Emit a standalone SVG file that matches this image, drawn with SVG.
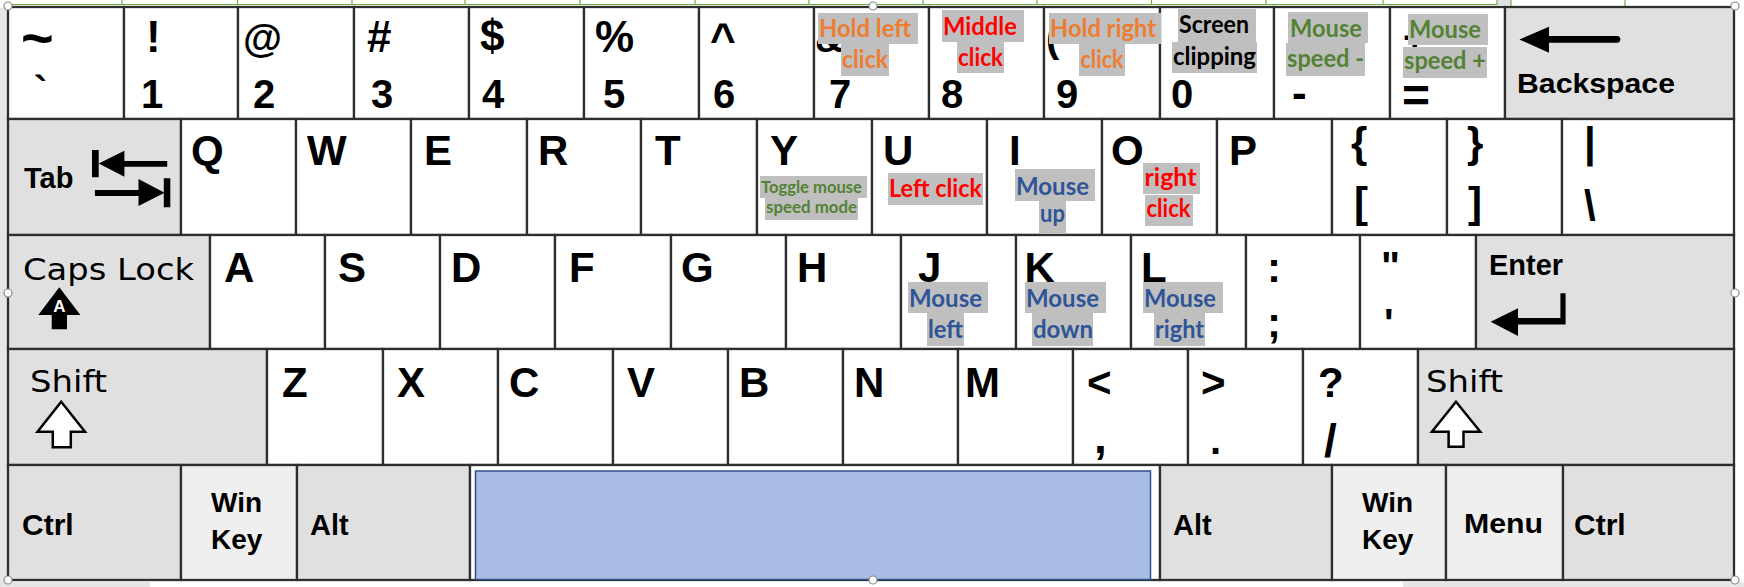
<svg xmlns="http://www.w3.org/2000/svg" width="1744" height="587" viewBox="0 0 1744 587">
<style>
.k{stroke:#2e2e2e;stroke-width:2.3}
.w{fill:#fff}.g{fill:#e0e0e0}.l{fill:#efefef}
.t{font-family:"Liberation Sans",Arial,sans-serif;font-weight:bold;font-size:40px;fill:#000}
.L{font-size:42px}
.U{font-size:44px}
.m{font-family:"Liberation Sans",Arial,sans-serif;font-weight:bold;font-size:29px;fill:#000}
.m30{font-size:30px}
.m28{font-size:28px}
.d{font-family:"DejaVu Sans",sans-serif;font-size:31px;fill:#000}
.a{font-family:Lato,"Open Sans",sans-serif;font-weight:bold;font-size:25px}
.s{font-size:17px}
.hl{fill:#bfbfbf}
.or{fill:#ed7d31}.rd{fill:#ff0000}.gr{fill:#548235}.bl{fill:#2f5597}.bk{fill:#000}
.ic{fill:#000}
.io{fill:#fff;stroke:#000;stroke-width:2.5;stroke-linejoin:miter}
.h{fill:#fff;stroke:#8c8c8c;stroke-width:1.2}
.gl{stroke:#70ad47;stroke-width:1.2;fill:none}
</style>

<rect x="0" y="0" width="1744" height="587" fill="#fff"/>
<g id="sheet">
<rect x="0" y="8" width="7" height="579" fill="#e6e6e6"/>
<rect x="0" y="582" width="150" height="5" fill="#e6e6e6"/>
<rect x="1403" y="582" width="341" height="5" fill="#e6e6e6"/>
<rect x="1497" y="0" width="14" height="5" fill="#e0e0e0"/>
<path class="gl" d="M8 4.5H1497M1511 6.5H1734M122 0V4.5M237.5 0V4.5M352 0V4.5M465 0V4.5M580 0V4.5M695 0V4.5M809 0V4.5M923 0V4.5M1037 0V4.5M1151.5 0V4.5M1266 0V4.5M1383 0V4.5M1497 0V4.5M1511 0V6.5M1625 0V6.5"/>
</g>

<!-- Row 1 -->
<g id="key-tilde"><rect class="k w" x="8" y="7" width="116" height="112"/><text class="t" x="21" y="57" style="font-size:56px">~</text><text class="t" x="34" y="105">`</text></g>
<g id="key-1"><rect class="k w" x="124" y="7" width="114" height="112"/><text class="t U" x="146" y="52">!</text><text class="t" x="141" y="108">1</text></g>
<g id="key-2"><rect class="k w" x="238" y="7" width="116" height="112"/><text class="t" x="243" y="52">@</text><text class="t" x="253" y="108">2</text></g>
<g id="key-3"><rect class="k w" x="354" y="7" width="115" height="112"/><text class="t U" x="367" y="52">#</text><text class="t" x="371" y="108">3</text></g>
<g id="key-4"><rect class="k w" x="469" y="7" width="115" height="112"/><text class="t U" x="480" y="51">$</text><text class="t" x="482" y="108">4</text></g>
<g id="key-5"><rect class="k w" x="584" y="7" width="115" height="112"/><text class="t U" x="595" y="52">%</text><text class="t" x="603" y="108">5</text></g>
<g id="key-6"><rect class="k w" x="699" y="7" width="115" height="112"/><text class="t U" x="710" y="54">^</text><text class="t" x="713" y="108">6</text></g>
<g id="key-7"><rect class="k w" x="814" y="7" width="115" height="112"/><text class="t" x="815" y="52">&amp;</text><text class="t" x="829" y="108">7</text></g>
<g id="key-8"><rect class="k w" x="929" y="7" width="115" height="112"/><text class="t" x="941" y="108">8</text></g>
<g id="key-9"><rect class="k w" x="1044" y="7" width="116" height="112"/><text class="t" x="1046" y="52">(</text><text class="t" x="1056" y="108">9</text></g>
<g id="key-0"><rect class="k w" x="1160" y="7" width="114" height="112"/><text class="t" x="1171" y="108">0</text></g>
<g id="key-minus"><rect class="k w" x="1274" y="7" width="116" height="112"/><text class="t" x="1292" y="108" style="font-size:44px">-</text></g>
<g id="key-equal"><rect class="k w" x="1390" y="7" width="115" height="112"/><text class="t" x="1403" y="51">+</text><text class="t" x="1402" y="112" style="font-size:48px">=</text></g>
<g id="key-backspace"><rect class="k g" x="1505" y="7" width="229" height="112"/>
<path class="ic" d="M1519.4 39.5L1549 26.7V36H1617a3.3 3.3 0 0 1 0 6.7H1549V52.7Z"/>
<text class="m" x="1517" y="93" style="font-size:27px" textLength="158" lengthAdjust="spacingAndGlyphs">Backspace</text></g>

<!-- Row 2 -->
<g id="key-tab"><rect class="k g" x="8" y="119" width="173" height="116"/>
<text class="m" x="24" y="188">Tab</text>
<path class="ic" d="M92 150H98.7V177.3H92ZM98.7 163.5L124.4 150.7V161H167.2V166.7H124.4V176.7Z"/>
<path class="ic" d="M94.9 190H138.5V179L164.6 192.7L138.5 206V196H94.9ZM163.8 178.3H170.3V207.3H163.8Z"/>
</g>
<g id="key-q"><rect class="k w" x="181" y="119" width="115" height="116"/><text class="t L" x="191" y="165">Q</text></g>
<g id="key-w"><rect class="k w" x="296" y="119" width="115" height="116"/><text class="t L" x="307" y="165">W</text></g>
<g id="key-e"><rect class="k w" x="411" y="119" width="116" height="116"/><text class="t L" x="424" y="165">E</text></g>
<g id="key-r"><rect class="k w" x="527" y="119" width="114" height="116"/><text class="t L" x="538" y="165">R</text></g>
<g id="key-t"><rect class="k w" x="641" y="119" width="116" height="116"/><text class="t L" x="655" y="165">T</text></g>
<g id="key-y"><rect class="k w" x="757" y="119" width="115" height="116"/><text class="t L" x="770" y="165">Y</text></g>
<g id="key-u"><rect class="k w" x="872" y="119" width="115" height="116"/><text class="t L" x="883" y="165">U</text></g>
<g id="key-i"><rect class="k w" x="987" y="119" width="115" height="116"/><text class="t L" x="1009" y="165">I</text></g>
<g id="key-o"><rect class="k w" x="1102" y="119" width="115" height="116"/><text class="t L" x="1111" y="165">O</text></g>
<g id="key-p"><rect class="k w" x="1217" y="119" width="115" height="116"/><text class="t L" x="1229" y="165">P</text></g>
<g id="key-lbracket"><rect class="k w" x="1332" y="119" width="115" height="116"/><text class="t L" x="1351" y="157">{</text><text class="t L" x="1354" y="217">[</text></g>
<g id="key-rbracket"><rect class="k w" x="1447" y="119" width="115" height="116"/><text class="t L" x="1467" y="157">}</text><text class="t L" x="1468" y="217">]</text></g>
<g id="key-backslash"><rect class="k w" x="1562" y="119" width="172" height="116"/><text class="t L" x="1584" y="157">|</text><text class="t L" x="1584" y="220">\</text></g>

<!-- Row 3 -->
<g id="key-capslock"><rect class="k g" x="8" y="235" width="202" height="114"/>
<text class="d" x="23" y="280" textLength="171" lengthAdjust="spacingAndGlyphs">Caps Lock</text>
<path class="ic" d="M59.3 287.3L80.4 315H67V329.3H51.7V315H38.3Z"/>
<text x="59.5" y="311.5" text-anchor="middle" font-family="Liberation Sans,Arial,sans-serif" font-weight="bold" font-size="17" fill="#fff">A</text>
</g>
<g id="key-a"><rect class="k w" x="210" y="235" width="115" height="114"/><text class="t L" x="224" y="282">A</text></g>
<g id="key-s"><rect class="k w" x="325" y="235" width="115" height="114"/><text class="t L" x="338" y="282">S</text></g>
<g id="key-d"><rect class="k w" x="440" y="235" width="115" height="114"/><text class="t L" x="451" y="282">D</text></g>
<g id="key-f"><rect class="k w" x="555" y="235" width="116" height="114"/><text class="t L" x="569" y="282">F</text></g>
<g id="key-g"><rect class="k w" x="671" y="235" width="115" height="114"/><text class="t L" x="681" y="282">G</text></g>
<g id="key-h"><rect class="k w" x="786" y="235" width="115" height="114"/><text class="t L" x="797" y="282">H</text></g>
<g id="key-j"><rect class="k w" x="901" y="235" width="115" height="114"/><text class="t L" x="918" y="282">J</text></g>
<g id="key-k"><rect class="k w" x="1016" y="235" width="115" height="114"/><text class="t L" x="1024.5" y="282">K</text></g>
<g id="key-l"><rect class="k w" x="1131" y="235" width="115" height="114"/><text class="t L" x="1141" y="282">L</text></g>
<g id="key-semicolon"><rect class="k w" x="1246" y="235" width="114" height="114"/><text class="t L" x="1267" y="282">:</text><text class="t L" x="1267" y="337">;</text></g>
<g id="key-quote"><rect class="k w" x="1360" y="235" width="116" height="114"/><text class="t" x="1381" y="280">"</text><text class="t" x="1384" y="337">'</text></g>
<g id="key-enter"><rect class="k g" x="1476" y="235" width="258" height="114"/>
<text class="m" x="1489" y="275">Enter</text>
<path class="ic" d="M1560.4 293.3H1565.6V324.5H1518V336L1490.7 321.7L1518 308.3V318H1560.4Z"/>
</g>

<!-- Row 4 -->
<g id="key-lshift"><rect class="k g" x="8" y="349" width="259" height="116"/>
<text class="d" x="30" y="392" textLength="77" lengthAdjust="spacingAndGlyphs">Shift</text>
<path class="io" d="M61.2 401.7L85 431.7H70.8V447.3H52.8V431.7H37.5Z"/>
</g>
<g id="key-z"><rect class="k w" x="267" y="349" width="116" height="116"/><text class="t L" x="282" y="397">Z</text></g>
<g id="key-x"><rect class="k w" x="383" y="349" width="115" height="116"/><text class="t L" x="397" y="397">X</text></g>
<g id="key-c"><rect class="k w" x="498" y="349" width="115" height="116"/><text class="t L" x="509" y="397">C</text></g>
<g id="key-v"><rect class="k w" x="613" y="349" width="115" height="116"/><text class="t L" x="627" y="397">V</text></g>
<g id="key-b"><rect class="k w" x="728" y="349" width="115" height="116"/><text class="t L" x="739" y="397">B</text></g>
<g id="key-n"><rect class="k w" x="843" y="349" width="115" height="116"/><text class="t L" x="854" y="397">N</text></g>
<g id="key-m"><rect class="k w" x="958" y="349" width="115" height="116"/><text class="t L" x="965" y="397">M</text></g>
<g id="key-comma"><rect class="k w" x="1073" y="349" width="115" height="116"/><text class="t L" x="1087" y="397">&lt;</text><text class="t" x="1094" y="453" style="font-size:46px">,</text></g>
<g id="key-period"><rect class="k w" x="1188" y="349" width="115" height="116"/><text class="t L" x="1201" y="397">&gt;</text><text class="t" x="1210" y="454">.</text></g>
<g id="key-slash"><rect class="k w" x="1303" y="349" width="115" height="116"/><text class="t L" x="1318" y="397">?</text><text class="t" x="1324" y="457" style="font-size:46px">/</text></g>
<g id="key-rshift"><rect class="k g" x="1418" y="349" width="316" height="116"/>
<text class="d" x="1426" y="392" textLength="77" lengthAdjust="spacingAndGlyphs">Shift</text>
<path class="io" d="M1456 401.7L1480.3 431.7H1463.5V446.7H1448.6V431.7H1431.9Z"/>
</g>

<!-- Row 5 -->
<g id="key-lctrl"><rect class="k g" x="8" y="465" width="173" height="115"/><text class="m m30" x="22" y="535">Ctrl</text></g>
<g id="key-lwin"><rect class="k l" x="181" y="465" width="116" height="115"/><text class="m m28" x="211" y="512">Win</text><text class="m m28" x="211" y="549">Key</text></g>
<g id="key-lalt"><rect class="k g" x="297" y="465" width="173" height="115"/><text class="m" x="310" y="535">Alt</text></g>
<g id="key-space"><rect class="k w" x="470" y="465" width="690" height="115"/><rect x="475.5" y="471" width="675" height="108.5" fill="#a9bce3" stroke="#2f528f" stroke-width="1.5"/></g>
<g id="key-ralt"><rect class="k g" x="1160" y="465" width="172" height="115"/><text class="m" x="1173" y="535">Alt</text></g>
<g id="key-rwin"><rect class="k l" x="1332" y="465" width="114" height="115"/><text class="m m28" x="1362" y="512">Win</text><text class="m m28" x="1362" y="549">Key</text></g>
<g id="key-menu"><rect class="k l" x="1446" y="465" width="117" height="115"/><text class="m m28" x="1464" y="533" textLength="79" lengthAdjust="spacingAndGlyphs">Menu</text></g>
<g id="key-rctrl"><rect class="k g" x="1563" y="465" width="171" height="115"/><text class="m m30" x="1574" y="535">Ctrl</text></g>

<!-- Annotations -->
<g id="note-hold-left">
<rect class="hl" x="818" y="13" width="100" height="31"/><rect class="hl" x="841" y="44" width="48" height="32"/>
<text class="a or" x="819" y="37" textLength="92" lengthAdjust="spacingAndGlyphs">Hold left</text>
<text class="a or" x="842" y="68" textLength="46" lengthAdjust="spacingAndGlyphs">click</text>
</g>
<g id="note-middle">
<rect class="hl" x="942" y="10" width="82" height="32"/><rect class="hl" x="957" y="42" width="47" height="31"/>
<text class="a rd" x="943" y="35" textLength="74" lengthAdjust="spacingAndGlyphs">Middle</text>
<text class="a rd" x="958" y="66" textLength="45" lengthAdjust="spacingAndGlyphs">click</text>
</g>
<g id="note-hold-right">
<rect class="hl" x="1049" y="13" width="112" height="31"/><rect class="hl" x="1079" y="44" width="46" height="32"/>
<text class="a or" x="1050" y="37" textLength="106" lengthAdjust="spacingAndGlyphs">Hold right</text>
<text class="a or" x="1080.5" y="68" textLength="43" lengthAdjust="spacingAndGlyphs">click</text>
</g>
<g id="note-screen">
<rect class="hl" x="1178" y="9" width="78" height="33"/><rect class="hl" x="1172" y="42" width="85" height="31"/>
<text class="a bk" x="1179" y="33" textLength="70" lengthAdjust="spacingAndGlyphs">Screen</text>
<text class="a bk" x="1173" y="65" textLength="83" lengthAdjust="spacingAndGlyphs">clipping</text>
</g>
<g id="note-speed-down">
<rect class="hl" x="1288" y="12" width="80" height="31"/><rect class="hl" x="1286" y="43" width="79" height="33"/>
<text class="a gr" x="1290" y="37" textLength="72" lengthAdjust="spacingAndGlyphs">Mouse</text>
<text class="a gr" x="1287" y="67" textLength="77" lengthAdjust="spacingAndGlyphs">speed -</text>
</g>
<g id="note-speed-up">
<rect class="hl" x="1408" y="14" width="80" height="31"/><rect class="hl" x="1403" y="47" width="84" height="31"/>
<text class="a gr" x="1409" y="38" textLength="72" lengthAdjust="spacingAndGlyphs">Mouse</text>
<text class="a gr" x="1404" y="69" textLength="82" lengthAdjust="spacingAndGlyphs">speed +</text>
</g>
<g id="note-toggle">
<rect class="hl" x="760" y="176" width="107" height="22"/><rect class="hl" x="765" y="198" width="93" height="22"/>
<text class="a s gr" x="761" y="193" textLength="101" lengthAdjust="spacingAndGlyphs">Toggle mouse</text>
<text class="a s gr" x="766" y="213" textLength="91" lengthAdjust="spacingAndGlyphs">speed mode</text>
</g>
<g id="note-left-click">
<rect class="hl" x="888" y="173" width="95" height="32"/>
<text class="a rd" x="889" y="197" textLength="93" lengthAdjust="spacingAndGlyphs">Left click</text>
</g>
<g id="note-mouse-up">
<rect class="hl" x="1015" y="169" width="80" height="32"/><rect class="hl" x="1039" y="201" width="27" height="32"/>
<text class="a bl" x="1016" y="195" textLength="73" lengthAdjust="spacingAndGlyphs">Mouse</text>
<text class="a bl" x="1040" y="222" textLength="25" lengthAdjust="spacingAndGlyphs">up</text>
</g>
<g id="note-right-click">
<rect class="hl" x="1143" y="163" width="57" height="31"/><rect class="hl" x="1145" y="195" width="48" height="31"/>
<text class="a rd" x="1144.5" y="186" textLength="52" lengthAdjust="spacingAndGlyphs">right</text>
<text class="a rd" x="1146.5" y="217" textLength="44" lengthAdjust="spacingAndGlyphs">click</text>
</g>
<g id="note-mouse-left">
<rect class="hl" x="908" y="282" width="80" height="31"/><rect class="hl" x="927" y="313" width="37" height="33"/>
<text class="a bl" x="909" y="307" textLength="73" lengthAdjust="spacingAndGlyphs">Mouse</text>
<text class="a bl" x="928" y="338" textLength="35" lengthAdjust="spacingAndGlyphs">left</text>
</g>
<g id="note-mouse-down">
<rect class="hl" x="1025" y="282" width="81" height="31"/><rect class="hl" x="1032" y="313" width="61" height="33"/>
<text class="a bl" x="1026" y="307" textLength="73" lengthAdjust="spacingAndGlyphs">Mouse</text>
<text class="a bl" x="1033" y="338" textLength="60" lengthAdjust="spacingAndGlyphs">down</text>
</g>
<g id="note-mouse-right">
<rect class="hl" x="1143" y="282" width="80" height="31"/><rect class="hl" x="1154" y="313" width="51" height="33"/>
<text class="a bl" x="1144" y="307" textLength="72" lengthAdjust="spacingAndGlyphs">Mouse</text>
<text class="a bl" x="1155" y="338" textLength="49" lengthAdjust="spacingAndGlyphs">right</text>
</g>

<g id="handles">
<circle class="h" cx="8" cy="6" r="4"/><circle class="h" cx="873" cy="6" r="4"/><circle class="h" cx="1735" cy="6" r="4"/>
<circle class="h" cx="8" cy="293" r="4"/><circle class="h" cx="1735" cy="293" r="4"/>
<circle class="h" cx="8" cy="580" r="4"/><circle class="h" cx="873" cy="580" r="4"/><circle class="h" cx="1735" cy="580" r="4"/>
</g>
</svg>
